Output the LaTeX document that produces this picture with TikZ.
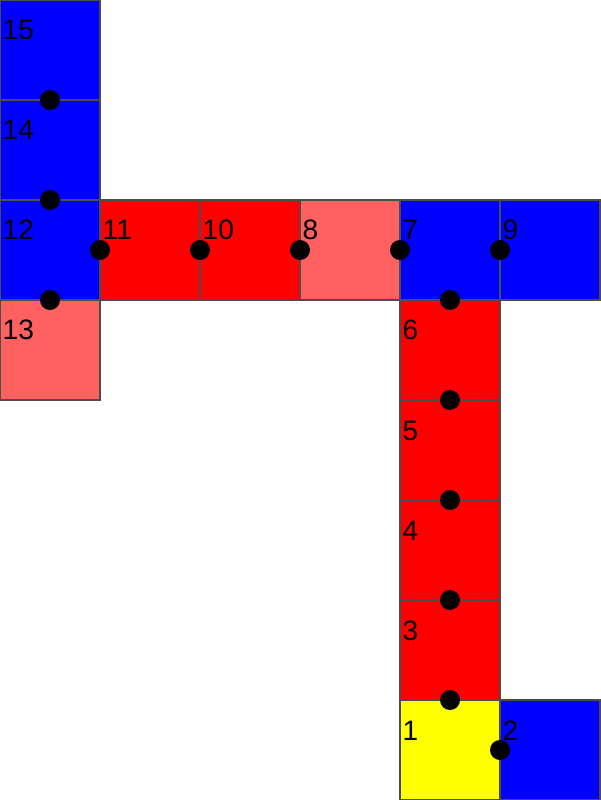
\documentclass[tikz,border=0pt]{standalone}
\usepackage{fontspec}
\setmainfont{Liberation Sans}
\usetikzlibrary{positioning}

\definecolor{cellblue}{RGB}{0,0,255}
\definecolor{cellred}{RGB}{255,0,0}
\definecolor{celllight}{RGB}{255,96,96}
\definecolor{cellyellow}{RGB}{255,255,0}

\begin{document}
\begin{tikzpicture}[
  font=\fontsize{8}{9.6}\selectfont,
  node distance=0cm and 0cm,
  cell/.style={draw=black!70, line width=0.35pt, minimum size=1cm, inner sep=0pt, outer sep=0pt},
  bluecell/.style={cell, fill=cellblue},
  redcell/.style={cell, fill=cellred},
  lightcell/.style={cell, fill=celllight},
  yellowcell/.style={cell, fill=cellyellow},
  num/.style={anchor=base west, inner sep=0pt},
  joint/.style={circle, fill=black, minimum size=0.2cm, inner sep=0pt}]

\useasboundingbox (0,0) rectangle (6,-8);

% left column
\node[bluecell, anchor=north west] (s15) at (0,0) {};
\node[bluecell, below=of s15] (s14) {};
\node[bluecell, below=of s14] (s12) {};
\node[lightcell, below=of s12] (s13) {};

% middle row
\node[redcell, right=of s12] (s11) {};
\node[redcell, right=of s11] (s10) {};
\node[lightcell, right=of s10] (s8) {};
\node[bluecell, right=of s8] (s7) {};
\node[bluecell, right=of s7] (s9) {};

% right column
\node[redcell, below=of s7] (s6) {};
\node[redcell, below=of s6] (s5) {};
\node[redcell, below=of s5] (s4) {};
\node[redcell, below=of s4] (s3) {};
\node[yellowcell, below=of s3] (s1) {};
\node[bluecell, right=of s1] (s2) {};

% joints
\node[joint] (j15) at (s15.south) {};
\node[joint] (j14) at (s14.south) {};
\node[joint] (j12) at (s12.south) {};
\node[joint] (j11) at (s12.east) {};
\node[joint] (j10) at (s11.east) {};
\node[joint] (j8) at (s10.east) {};
\node[joint] (j7) at (s8.east) {};
\node[joint] (j9) at (s7.east) {};
\node[joint] (j6) at (s7.south) {};
\node[joint] (j5) at (s6.south) {};
\node[joint] (j4) at (s5.south) {};
\node[joint] (j3) at (s4.south) {};
\node[joint] (j1) at (s3.south) {};
\node[joint] (j2) at (s1.east) {};

% numbers
\node[num] (n15) at ([shift={(0.02,-0.4)}]s15.north west) {15};
\node[num] (n14) at ([shift={(0.02,-0.4)}]s14.north west) {14};
\node[num] (n12) at ([shift={(0.02,-0.4)}]s12.north west) {12};
\node[num] (n13) at ([shift={(0.02,-0.4)}]s13.north west) {13};
\node[num] (n11) at ([shift={(0.02,-0.4)}]s11.north west) {11};
\node[num] (n10) at ([shift={(0.02,-0.4)}]s10.north west) {10};
\node[num] (n8) at ([shift={(0.02,-0.4)}]s8.north west) {8};
\node[num] (n7) at ([shift={(0.02,-0.4)}]s7.north west) {7};
\node[num] (n9) at ([shift={(0.02,-0.4)}]s9.north west) {9};
\node[num] (n6) at ([shift={(0.02,-0.4)}]s6.north west) {6};
\node[num] (n5) at ([shift={(0.02,-0.4)}]s5.north west) {5};
\node[num] (n4) at ([shift={(0.02,-0.4)}]s4.north west) {4};
\node[num] (n3) at ([shift={(0.02,-0.4)}]s3.north west) {3};
\node[num] (n1) at ([shift={(0.02,-0.4)}]s1.north west) {1};
\node[num] (n2) at ([shift={(0.02,-0.4)}]s2.north west) {2};
\end{tikzpicture}
\end{document}
